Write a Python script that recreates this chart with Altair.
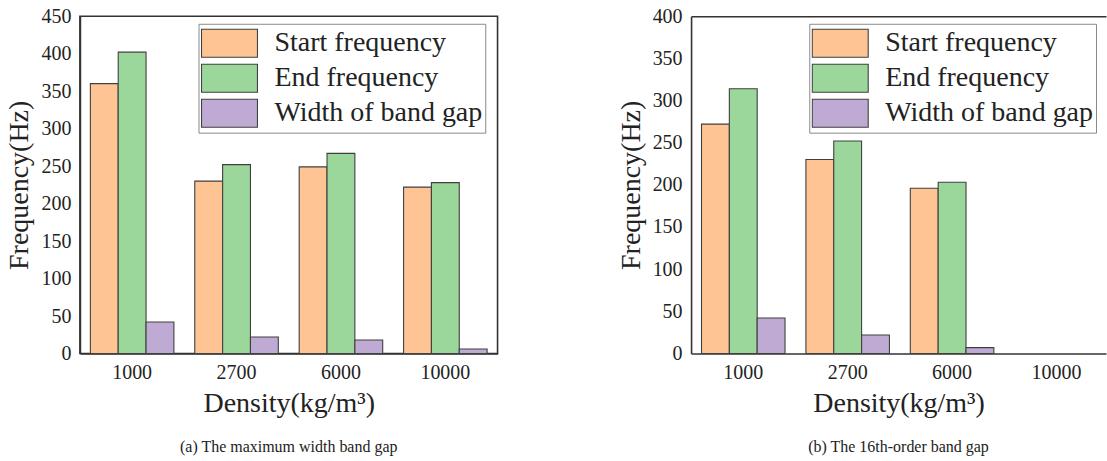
import altair as alt
import pandas as pd

# Categories and series
densities = ["1000", "2700", "6000", "10000"]
series = ["Start frequency", "End frequency", "Width of band gap"]
colors = ["#FEC494", "#9BD79A", "#BEAAD3"]

# (a) maximum width band gap, Hz
max_start = [360, 230, 249, 222]
max_end = [402, 252, 267, 228]
max_width = [42, 22, 18, 6]

# (b) 16th-order band gap, Hz (no gap at 10000)
o16_start = [272, 230, 196, None]
o16_end = [314, 252, 203, None]
o16_width = [42, 22, 7, None]

FONT = "'Liberation Serif', 'Times New Roman', serif"
INK = "#222222"
LINE = "#333333"
PLOT_H = 337.6


def long_table(start, end, width):
    rows = []
    for i, d in enumerate(densities):
        for s, vals in zip(series, (start, end, width)):
            if vals[i] is not None:
                rows.append({"density": d, "series": s, "value": vals[i]})
    return pd.DataFrame(rows)


def panel(df, ymax, caption, plot_w, x_scale, legend_x, open_right):
    base = alt.Chart(df)
    x_axis = alt.Axis(
        title="Density(kg/m³)", labelAngle=0, ticks=False, tickSize=0,
        labelBaseline="alphabetic", labelPadding=25,
        labelFont=FONT, labelFontSize=20, labelColor=INK, labelFontWeight="normal",
        titleFont=FONT, titleFontSize=28, titleFontWeight="normal", titleColor=INK,
        titleX=plot_w / 2, titleY=58.4, titleAlign="center", titleBaseline="alphabetic",
        domainColor=LINE, domainWidth=1.6, grid=False,
    )
    y_axis = alt.Axis(
        title="Frequency(Hz)", values=list(range(0, ymax + 1, 50)),
        ticks=False, tickSize=0, labelPadding=9,
        labelFont=FONT, labelFontSize=20, labelColor=INK, labelFontWeight="normal",
        titleFont=FONT, titleFontSize=28, titleFontWeight="normal", titleColor=INK,
        titleX=-52, titleY=PLOT_H / 2, titleAlign="center", titleBaseline="alphabetic",
        titleAngle=270, domainColor=LINE, domainWidth=1.6, grid=False,
    )
    bars = base.mark_bar(stroke="#404040", strokeWidth=1.1).encode(
        x=alt.X("density:N", sort=densities, scale=x_scale, axis=x_axis),
        xOffset=alt.XOffset("series:N", sort=series, scale=alt.Scale(domain=series)),
        y=alt.Y("value:Q", scale=alt.Scale(domain=[0, ymax], nice=False), axis=y_axis),
        color=alt.Color(
            "series:N",
            scale=alt.Scale(domain=series, range=colors),
            legend=alt.Legend(orient="none", legendX=legend_x, legendY=7.6, title=None,
                              labelFont=FONT, labelFontWeight="normal"),
        ),
    )
    layers = [bars]
    props = dict(
        width=plot_w,
        height=PLOT_H,
        title=alt.TitleParams(
            caption, orient="bottom", anchor="middle", frame="group",
            font=FONT, fontSize=16, fontWeight="normal", color=INK, offset=21,
        ),
    )
    if open_right:
        # frame drawn from axes only: top line from a label-less top axis
        top = base.mark_bar(opacity=0).encode(
            x=alt.X(
                "density:N", sort=densities, scale=x_scale,
                axis=alt.Axis(orient="top", labels=False, ticks=False, title=None,
                              domainColor=LINE, domainWidth=1.6, grid=False),
            )
        )
        layers.append(top)
        props["view"] = alt.ViewBackground(stroke="transparent")
    chart = alt.layer(*layers).properties(**props)
    if open_right:
        chart = chart.resolve_axis(x="independent")
    return chart


left = panel(
    long_table(max_start, max_end, max_width), 450,
    "(a) The maximum width band gap", 418,
    alt.Scale(domain=densities, paddingInner=0.2, paddingOuter=0.1),
    118.7, False,
)
right = panel(
    long_table(o16_start, o16_end, o16_width), 400,
    "(b) The 16th-order band gap", 415.3,
    alt.Scale(domain=densities, paddingInner=0.2, paddingOuter=0.087, align=0.574),
    118.3, True,
)

chart = (
    alt.hconcat(left, right, spacing=193.7, bounds="flush")
    .resolve_legend(color="independent")
    .properties(padding={"left": 5, "top": 5, "right": 0, "bottom": 0}, background="white")
    .configure(font=FONT)
    .configure_axis(labelFont=FONT, titleFont=FONT)
    .configure_view(stroke=LINE, strokeWidth=1.6)
    .configure_legend(
        symbolType="M-1,-0.5H1V0.5H-1Z", symbolSize=3136,
        symbolStrokeColor="#404040", symbolStrokeWidth=1.1, symbolOpacity=1,
        labelFont=FONT, labelFontSize=28, labelColor=INK, labelLimit=320,
        labelOffset=16, clipHeight=35, rowPadding=0, padding=2,
        strokeColor="#8a8a8a", strokeWidth=1, fillColor="white", cornerRadius=0,
    )
)

chart.save("out.html", embed_options={"renderer": "svg", "actions": False})
